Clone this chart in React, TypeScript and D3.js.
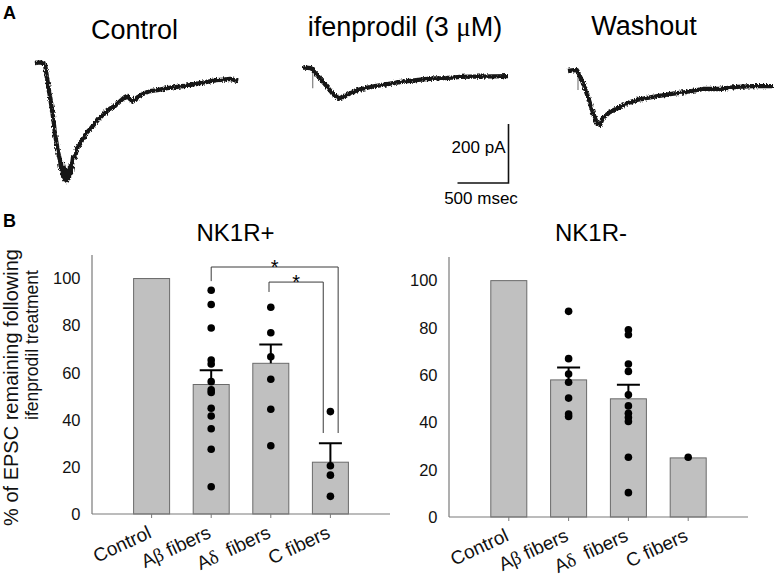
import React, { useRef, useEffect } from "react";
import * as d3 from "d3";

// ---- Panel A: EPSC traces, [time ms, current pA]
const controlTrace: [number, number][] = [
  [0, 0], [50, 2], [90, -2], [100, -8], [120, -55], [147, -115], [176, -180],
  [196, -240], [225, -300], [245, -330], [255, -360], [265, -340], [275, -385],
  [284, -355], [294, -395], [304, -370], [314, -400], [324, -365], [333, -390],
  [343, -350], [353, -370], [373, -320], [392, -320], [412, -290], [441, -275],
  [471, -255], [510, -235], [539, -225], [588, -205], [637, -185], [686, -170],
  [735, -155], [784, -145], [833, -130], [882, -115], [902, -112], [931, -122],
  [960, -130], [990, -120], [1029, -110], [1078, -102], [1127, -95], [1200, -92],
  [1294, -85], [1373, -82], [1451, -78], [1530, -74], [1618, -68], [1700, -63],
  [1784, -58], [1850, -56], [1912, -54], [1990, -62],
];
const ifenTrace: [number, number][] = [
  [0, 0], [78, -2], [88, -5], [98, -10], [147, -29], [196, -49], [245, -69],
  [294, -90], [330, -100], [360, -105], [392, -98], [430, -94], [461, -88],
  [510, -80], [559, -74], [630, -68], [706, -63], [800, -58], [882, -53],
  [960, -49], [1049, -45], [1130, -42], [1216, -39], [1300, -37], [1392, -36],
  [1460, -34], [1539, -32], [1640, -31], [1735, -31], [1860, -30], [2010, -29],
];
const washTrace: [number, number][] = [
  [0, 0], [40, 2], [88, 3], [100, -5], [147, -41], [196, -88], [245, -142],
  [284, -176], [314, -183], [343, -159], [412, -139], [510, -122], [590, -108],
  [676, -98], [833, -88], [1000, -78], [1167, -71], [1324, -61], [1490, -61],
  [1657, -54], [1814, -51], [2010, -51],
];
// stimulus artifacts [time ms, depth pA]
const ifenArtifact: [number, number] = [95, -70];
const washArtifact: [number, number] = [98, -64];

const traceTitles = ["Control", "ifenprodil (3 ", "Washout"];

// ---- Panel B: % of EPSC remaining
const categories = ["Control", "Aβ fibers", "Aδ  fibers", "C fibers"];
const yTicks = [0, 20, 40, 60, 80, 100];

const posMean = [100, 55, 64, 22];
const posSem = [0, 6, 8, 8];
const posPoints: number[][] = [
  [],
  [95, 89, 79, 65.4, 63.7, 56.2, 52.7, 51.6, 44.9, 41.6, 36.2, 27.5, 11.6],
  [87.8, 77, 66.8, 57.2, 44.5, 29],
  [43.5, 20.5, 16.5, 7.5],
];

const negMean = [100, 58, 50, 25];
const negSem = [0, 5.3, 6, 0];
const negPoints: number[][] = [
  [],
  [87, 67, 60.5, 57, 50.3, 43.6, 42.5],
  [79.2, 77.1, 64.7, 61.6, 51.7, 47, 43.9, 42.1, 40.4, 25.3, 10.3],
  [25.3],
];

// significance brackets (x in category positions, y in %)
const posBrackets = [
  { from: 2.0, to: 4.13, top: 104.9, leftEnd: 98.9, rightEnd: 34.4 },
  { from: 2.97, to: 3.88, top: 98.5, leftEnd: 94.3, rightEnd: 34.4 },
];

const FONT = "'Liberation Sans', Arial, Helvetica, sans-serif";
const GREEK = "'Liberation Serif', 'DejaVu Serif', serif";

function App() {
  const svgRef = useRef<SVGSVGElement>(null);

  useEffect(() => {
    const svg = d3.select(svgRef.current);
    svg.selectAll("*").remove();
    svg.attr("font-family", FONT);

    // roughen the recorded traces a bit (recording noise look)
    const filt = svg.append("defs").append("filter")
      .attr("id", "rough")
      .attr("filterUnits", "userSpaceOnUse")
      .attr("x", 0).attr("y", 0).attr("width", 775).attr("height", 220);
    filt.append("feTurbulence")
      .attr("type", "fractalNoise")
      .attr("baseFrequency", "0.9 0.45")
      .attr("numOctaves", 1)
      .attr("seed", 3)
      .attr("result", "noise");
    filt.append("feDisplacementMap")
      .attr("in", "SourceGraphic")
      .attr("in2", "noise")
      .attr("scale", 4.5)
      .attr("xChannelSelector", "R")
      .attr("yChannelSelector", "G");

    // panel letters
    svg.append("text").attr("x", 3).attr("y", 19).attr("font-size", 18)
      .attr("font-weight", "bold").text("A");
    svg.append("text").attr("x", 3).attr("y", 227).attr("font-size", 18)
      .attr("font-weight", "bold").text("B");

    // ---------- traces ----------
    const drawTrace = (
      data: [number, number][],
      x0: number,
      y0: number,
      artifact?: [number, number]
    ) => {
      const x = d3.scaleLinear().domain([0, 500]).range([x0, x0 + 51]);
      const y = d3.scaleLinear().domain([0, -200]).range([y0, y0 + 59]);
      if (artifact) {
        svg.append("line")
          .attr("x1", x(artifact[0])).attr("x2", x(artifact[0]))
          .attr("y1", y(0)).attr("y2", y(artifact[1]))
          .attr("stroke", "#8a8a8a").attr("stroke-width", 1.3);
      }
      const line = d3.line<[number, number]>()
        .x((d) => x(d[0]))
        .y((d) => y(d[1]));
      svg.append("path")
        .datum(data)
        .attr("d", line)
        .attr("fill", "none")
        .attr("stroke", "#161616")
        .attr("stroke-width", 4.3)
        .attr("stroke-linejoin", "round")
        .attr("filter", "url(#rough)");
    };

    drawTrace(controlTrace, 35, 63);
    drawTrace(ifenTrace, 303, 67.5, ifenArtifact);
    drawTrace(washTrace, 568, 71, washArtifact);

    svg.append("text").attr("x", 134.5).attr("y", 38.5).attr("font-size", 27)
      .attr("text-anchor", "middle").text(traceTitles[0]);
    const t2 = svg.append("text").attr("x", 405).attr("y", 36).attr("font-size", 27)
      .attr("text-anchor", "middle").style("white-space", "pre");
    t2.append("tspan").text(traceTitles[1]);
    t2.append("tspan").attr("font-family", GREEK).text("μ");
    t2.append("tspan").text("M)");
    svg.append("text").attr("x", 644).attr("y", 35).attr("font-size", 27)
      .attr("text-anchor", "middle").text(traceTitles[2]);

    // scale bar: 500 msec x 200 pA, same scale as the traces
    const sbX = d3.scaleLinear().domain([0, 500]).range([457.5, 457.5 + 51]);
    const sbY = d3.scaleLinear().domain([0, 200]).range([183, 183 - 59]);
    svg.append("path")
      .attr("d", `M${sbX(0)},${sbY(0)}H${sbX(500)}V${sbY(200)}`)
      .attr("fill", "none").attr("stroke", "#111").attr("stroke-width", 1.6);
    svg.append("text").attr("x", sbX(500) - 3).attr("y", 153).attr("font-size", 17)
      .attr("text-anchor", "end").text("200 pA");
    svg.append("text").attr("x", 481).attr("y", 204).attr("font-size", 17)
      .attr("text-anchor", "middle").text("500 msec");

    // ---------- bar panels ----------
    const drawPanel = (
      left: number,
      right: number,
      bottom: number,
      top: number,
      mean: number[],
      sem: number[],
      points: number[][],
      title: string,
      titleX: number,
      brackets: typeof posBrackets
    ) => {
      const x = d3.scaleLinear().domain([0, 5]).range([left, right]);
      const y = d3.scaleLinear().domain([0, 110]).range([bottom, top]);
      const g = svg.append("g");
      const barW = 36;

      // bars
      g.selectAll("rect.bar")
        .data(mean)
        .enter()
        .append("rect")
        .attr("class", "bar")
        .attr("x", (_d, i) => x(i + 1) - barW / 2)
        .attr("y", (d) => y(d))
        .attr("width", barW)
        .attr("height", (d) => y(0) - y(d))
        .attr("fill", "#c0c0c0")
        .attr("stroke", "#6a6a6a")
        .attr("stroke-width", 1);

      // axes
      g.append("line")
        .attr("x1", left).attr("x2", left)
        .attr("y1", y(0)).attr("y2", y(110))
        .attr("stroke", "#7a7a7a").attr("stroke-width", 1.2);
      g.append("line")
        .attr("x1", left).attr("x2", right)
        .attr("y1", y(0)).attr("y2", y(0))
        .attr("stroke", "#7a7a7a").attr("stroke-width", 1.2);
      g.selectAll("line.xt")
        .data(categories)
        .enter()
        .append("line")
        .attr("class", "xt")
        .attr("x1", (_d, i) => x(i + 1)).attr("x2", (_d, i) => x(i + 1))
        .attr("y1", y(0)).attr("y2", y(0) + 4)
        .attr("stroke", "#7a7a7a").attr("stroke-width", 1);

      g.selectAll("text.yt")
        .data(yTicks)
        .enter()
        .append("text")
        .attr("class", "yt")
        .attr("x", left - 11.5)
        .attr("y", (d) => y(d))
        .attr("dy", "0.35em")
        .attr("text-anchor", "end")
        .attr("font-size", 16.5)
        .attr("fill", "#111")
        .text((d) => d);

      // x labels (rotated, Greek letters in serif)
      categories.forEach((c, i) => {
        const t = g.append("text")
          .attr("transform", `translate(${x(i + 1) + 1},${y(0) + 23}) rotate(-25)`)
          .attr("text-anchor", "end")
          .attr("font-size", 19)
          .attr("fill", "#111")
          .style("white-space", "pre");
        const m = c.match(/^(.*?)([α-ω])(.*)$/);
        if (m) {
          t.append("tspan").text(m[1]);
          t.append("tspan").attr("font-family", GREEK).text(m[2]);
          t.append("tspan").text(m[3]);
        } else {
          t.text(c);
        }
      });

      // title
      g.append("text")
        .attr("x", titleX).attr("y", 240.5)
        .attr("text-anchor", "middle")
        .attr("font-size", 24)
        .text(title);

      // error bars (upper only)
      mean.forEach((m, i) => {
        if (!sem[i]) return;
        const cx = x(i + 1);
        g.append("path")
          .attr("d", `M${cx},${y(m)}V${y(m + sem[i])}M${cx - 11.5},${y(m + sem[i])}H${cx + 11.5}`)
          .attr("fill", "none").attr("stroke", "#000").attr("stroke-width", 2);
      });

      // individual points
      points.forEach((vals, i) => {
        g.selectAll(null)
          .data(vals)
          .enter()
          .append("circle")
          .attr("cx", x(i + 1))
          .attr("cy", (d) => y(d))
          .attr("r", 3.8)
          .attr("fill", "#000");
      });

      // significance brackets
      brackets.forEach((b) => {
        g.append("path")
          .attr("d",
            `M${x(b.from)},${y(b.leftEnd)}V${y(b.top)}H${x(b.to)}V${y(b.rightEnd)}`)
          .attr("fill", "none").attr("stroke", "#3a3a3a").attr("stroke-width", 1);
        g.append("text")
          .attr("x", (x(b.from) + x(b.to)) / 2)
          .attr("y", y(b.top) + 7)
          .attr("text-anchor", "middle")
          .attr("font-size", 20)
          .text("*");
      });
    };

    drawPanel(92, 390, 514, 255, posMean, posSem, posPoints, "NK1R+", 235.5, posBrackets);
    drawPanel(449, 748, 517, 257, negMean, negSem, negPoints, "NK1R-", 591, []);

    // y axis label (two lines)
    svg.append("text")
      .attr("transform", "translate(17.5,387.5) rotate(-90)")
      .attr("text-anchor", "middle")
      .attr("font-size", 20)
      .attr("fill", "#111")
      .text("% of EPSC remaining following");
    svg.append("text")
      .attr("transform", "translate(37.5,345) rotate(-90)")
      .attr("text-anchor", "middle")
      .attr("font-size", 17.5)
      .attr("fill", "#111")
      .text("ifenprodil treatment");
  }, []);

  return (
    <svg
      ref={svgRef}
      width={775}
      height={580}
      style={{ position: "absolute", left: 0, top: 0, background: "#fff" }}
    ></svg>
  );
}

export default App;
